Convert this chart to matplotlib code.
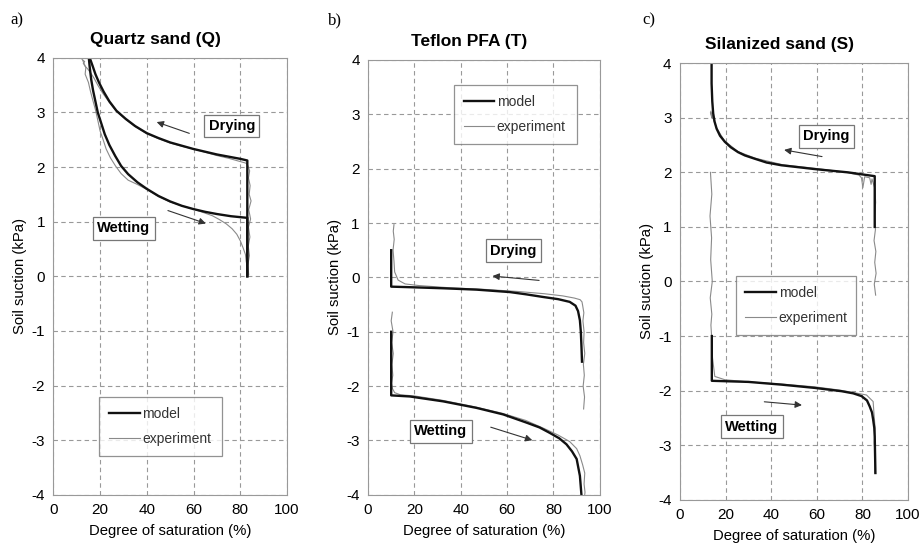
import numpy as np
import matplotlib.pyplot as plt

plt.rcParams['font.family'] = ['Liberation Sans', 'DejaVu Sans']
plt.rcParams['axes.unicode_minus'] = False

# ---- a) Quartz sand ----
q_dry_model_x = [83, 83, 80, 75, 70, 65, 60, 55, 50, 45, 40, 35, 31, 27, 24, 21.5,
                 19.5, 18, 16.8, 15.8, 15]
q_dry_model_y = [0.0, 2.12, 2.15, 2.19, 2.23, 2.28, 2.33, 2.39, 2.45, 2.53, 2.62, 2.75,
                 2.88, 3.03, 3.2, 3.38, 3.55, 3.7, 3.85, 3.97, 4.08]
q_wet_model_x = [15, 15.5, 16.2, 17, 18, 19, 20.5, 22, 24, 26.5, 29, 32, 36, 40, 45,
                 50, 55, 60, 65, 70, 76, 83, 83]
q_wet_model_y = [4.08, 3.85, 3.6, 3.4, 3.2, 3.0, 2.8, 2.6, 2.4, 2.2, 2.02, 1.87, 1.72,
                 1.6, 1.47, 1.37, 1.29, 1.23, 1.18, 1.14, 1.1, 1.07, 0.0]
q_dry_exp_x = [83.6, 83.2, 83.9, 83.4, 84.1, 83.5, 84.4, 83.6, 84.6, 83.8, 84.2, 83.5,
               84.0, 83.3, 82.5, 80, 75, 70, 65, 60, 55, 50, 45, 40, 35, 31, 27,
               24, 21, 19, 17.5, 16, 14.6, 13.5, 12.8, 13.4, 12.3]
q_dry_exp_y = [0.03, 0.2, 0.38, 0.55, 0.72, 0.9, 1.05, 1.22, 1.38, 1.5, 1.66, 1.8, 1.93,
               2.02, 2.07, 2.1, 2.16, 2.21, 2.27, 2.33, 2.38, 2.44, 2.52, 2.61, 2.74,
               2.87, 3.02, 3.18, 3.36, 3.5, 3.62, 3.72, 3.8, 3.85, 3.9, 3.93, 3.97]
q_wet_exp_x = [12.6, 13.9, 13.6, 15.0, 15.8, 16.9, 18.0, 19.0, 20.0, 21.3, 22.6, 24.4,
               26.6, 29.0, 32.0, 36, 40, 45, 50, 55, 60, 64, 68, 71, 74, 76.5, 78.5,
               80, 81.2, 82.2, 82.5, 83.0, 82.7, 83.3]
q_wet_exp_y = [3.95, 3.82, 3.7, 3.55, 3.4, 3.22, 3.05, 2.86, 2.66, 2.5, 2.33, 2.17,
               2.02, 1.88, 1.76, 1.68, 1.59, 1.46, 1.36, 1.29, 1.23, 1.17, 1.11, 1.04,
               0.96, 0.87, 0.77, 0.65, 0.52, 0.4, 0.28, 0.17, 0.08, 0.02]

# ---- b) Teflon PFA ----
t_dry_model_x = [92.3, 92.1, 91.8, 91.4, 90.6, 89.5, 87, 82, 75.5, 68, 61.2, 46.8,
                 32.4, 18, 10, 10]
t_dry_model_y = [-1.55, -1.3, -1.0, -0.79, -0.62, -0.52, -0.45, -0.4, -0.36, -0.31,
                 -0.27, -0.225, -0.2, -0.18, -0.17, 0.5]
t_wet_model_x = [10, 10, 18, 32.4, 46.8, 58.3, 68.3, 74, 78.4, 82.5, 85.6, 88, 90,
                 91.4, 92.1]
t_wet_model_y = [-1.0, -2.17, -2.19, -2.28, -2.4, -2.52, -2.67, -2.76, -2.86, -2.96,
                 -3.07, -3.2, -3.34, -3.65, -4.02]
t_dry_exp_x = [93.0, 93.4, 92.8, 93.3, 92.9, 93.5, 93.0, 93.2, 92.7, 93.1, 92.6, 92.3,
               91.5, 89, 84, 76, 65, 50, 35, 22, 16, 13, 11.5, 11.2, 10.8, 11.3,
               10.9, 11.2]
t_dry_exp_y = [-2.42, -2.2, -2.0, -1.8, -1.6, -1.4, -1.2, -1.0, -0.8, -0.65, -0.52,
               -0.45, -0.41, -0.38, -0.34, -0.3, -0.26, -0.22, -0.19, -0.15, -0.12,
               -0.05, 0.1, 0.3, 0.5, 0.7, 0.85, 0.97]
t_wet_exp_x = [10.5, 10.0, 10.8, 10.2, 10.9, 10.3, 10.7, 10.1, 10.6, 11.5, 14, 20, 32,
               46, 58, 68, 76, 82, 87, 90, 91.4, 92.6, 93.5, 93.2, 93.6, 93.3]
t_wet_exp_y = [-0.64, -0.8, -1.0, -1.2, -1.4, -1.6, -1.8, -1.95, -2.05, -2.12, -2.16,
               -2.18, -2.26, -2.38, -2.5, -2.63, -2.78, -2.9, -3.02, -3.15, -3.28,
               -3.45, -3.6, -3.8, -3.95, -4.07]

# ---- c) Silanized sand ----
s_dry_model_x = [85.4, 85.4, 73.7, 59.1, 44.5, 38, 32.8, 28.5, 25.5, 22.3, 19.7, 17.6,
                 16.1, 15.2, 14.6, 14.2, 13.9, 13.9]
s_dry_model_y = [1.0, 1.93, 2.0, 2.06, 2.13, 2.18, 2.25, 2.31, 2.37, 2.46, 2.56, 2.67,
                 2.8, 2.93, 3.08, 3.3, 3.63, 4.0]
s_wet_model_x = [14, 14, 30, 44.5, 59.1, 70.8, 76, 79.6, 82, 83.2, 84.2, 84.7, 85.2,
                 85.4, 85.7]
s_wet_model_y = [-1.0, -1.82, -1.84, -1.89, -1.95, -2.01, -2.05, -2.1, -2.18, -2.29,
                 -2.4, -2.53, -2.68, -2.84, -3.51]
s_dry_exp_x = [85.8, 85.2, 86.0, 85.4, 85.9, 85.1, 85.7, 85.3, 85.8, 85.5, 84.2, 83.8,
               83.2, 81, 80.2, 79.6, 78.5, 73, 60, 45, 33, 25.5, 19.5, 16, 14.5, 14.2,
               13.4, 14.0, 13.6]
s_dry_exp_y = [-0.25, -0.05, 0.15, 0.35, 0.55, 0.75, 0.95, 1.2, 1.45, 1.7, 1.88, 1.78,
               1.9, 1.92, 1.72, 1.9, 1.95, 2.0, 2.07, 2.14, 2.26, 2.38, 2.58, 2.82,
               3.0, 3.05, 3.1, 3.0, 3.12]
s_wet_exp_x = [13.4, 14.0, 13.2, 13.9, 13.5, 14.2, 13.3, 14.0, 13.6, 13.9, 14.3, 15.3,
               19.7, 30, 44.5, 59, 70, 78, 81.8, 84.7, 85.1, 85.6, 85.2, 85.7, 85.4]
s_wet_exp_y = [2.0, 1.6, 1.2, 0.8, 0.4, 0.0, -0.3, -0.6, -0.8, -1.0, -1.4, -1.74, -1.8,
               -1.84, -1.88, -1.93, -1.99, -2.05, -2.08, -2.2, -2.44, -2.7, -2.96,
               -3.25, -3.51]

panels = [
    dict(rect=[0.058, 0.092, 0.254, 0.802], title='Quartz sand (Q)', tag='a)', tagx=0.011,
         dm=(q_dry_model_x, q_dry_model_y), wm=(q_wet_model_x, q_wet_model_y),
         de=(q_dry_exp_x, q_dry_exp_y), we=(q_wet_exp_x, q_wet_exp_y),
         dry_lab=(76.4, 2.75), wet_lab=(30.1, 0.88),
         dry_arr=((59.3, 2.6), (43.1, 2.84)), wet_arr=((47.9, 1.22), (66.4, 0.95)),
         leg=(0.197, 0.089, 0.524, 0.141)),
    dict(rect=[0.400, 0.092, 0.252, 0.798], title='Teflon PFA (T)', tag='b)', tagx=0.356,
         dm=(t_dry_model_x, t_dry_model_y), wm=(t_wet_model_x, t_wet_model_y),
         de=(t_dry_exp_x, t_dry_exp_y), we=(t_wet_exp_x, t_wet_exp_y),
         dry_lab=(62.6, 0.49), wet_lab=(31.4, -2.83),
         dry_arr=((75, -0.06), (52.5, 0.03)), wet_arr=((51.8, -2.74), (72, -3.01)),
         leg=(0.37, 0.8075, 0.53, 0.1425)),
    dict(rect=[0.739, 0.083, 0.248, 0.801], title='Silanized sand (S)', tag='c)', tagx=0.698,
         dm=(s_dry_model_x, s_dry_model_y), wm=(s_wet_model_x, s_wet_model_y),
         de=(s_dry_exp_x, s_dry_exp_y), we=(s_wet_exp_x, s_wet_exp_y),
         dry_lab=(64.2, 2.66), wet_lab=(31.5, -2.66),
         dry_arr=((63.5, 2.28), (44.5, 2.42)), wet_arr=((35.8, -2.2), (54.7, -2.27)),
         leg=(0.244, 0.3775, 0.53, 0.145)),
]

fig = plt.figure(figsize=(9.2, 5.45), dpi=100)
box = dict(boxstyle='square,pad=0.3', fc='white', ec='#777777', lw=0.9)

for p in panels:
    ax = fig.add_axes(p['rect'])
    ax.plot(*p['de'], color='#8a8a8a', lw=0.8)
    ax.plot(*p['we'], color='#8a8a8a', lw=0.8)
    ax.plot(*p['dm'], color='#111111', lw=1.7, label='model')
    ax.plot(*p['wm'], color='#111111', lw=1.7)
    ax.plot([], [], color='#8a8a8a', lw=0.8, label='experiment')
    ax.set_xlim(0, 100)
    ax.set_ylim(-4, 4)
    ax.set_xticks(range(0, 101, 20))
    ax.set_yticks(range(-4, 5))
    ax.tick_params(length=0, labelsize=11, pad=6)
    ax.grid(True, color='#999999', ls=(0, (4, 3)), lw=0.8)
    for s in ax.spines.values():
        s.set_color('#999999')
    ax.set_xlabel('Degree of saturation (%)', fontsize=10.7, labelpad=5)
    ax.set_ylabel('Soil suction (kPa)', fontsize=10.7, labelpad=3)
    ax.set_title(p['title'], fontsize=12.5, fontweight='bold', pad=10, x=0.435)
    fig.text(p['tagx'], 0.955, p['tag'], fontsize=12, family='Liberation Serif')
    ax.text(*p['dry_lab'], 'Drying', ha='center', va='center', fontsize=10.5,
            fontweight='bold', bbox=box)
    ax.text(*p['wet_lab'], 'Wetting', ha='center', va='center', fontsize=10.5,
            fontweight='bold', bbox=box)
    for tail, head in (p['dry_arr'], p['wet_arr']):
        ax.annotate('', xy=head, xytext=tail,
                    arrowprops=dict(arrowstyle='-|>', color='#333333', lw=0.8,
                                    mutation_scale=10))
    leg = ax.legend(loc='lower left', bbox_to_anchor=p['leg'], mode='expand',
                    fontsize=10, frameon=True, fancybox=False, handlelength=2.2,
                    borderpad=0.7, labelspacing=0.8, handletextpad=0.2,
                    borderaxespad=0)
    leg.get_frame().set_edgecolor('#777777')
    leg.get_frame().set_linewidth(0.9)
    for t in leg.get_texts():
        t.set_color('#333333')

fig.savefig('out.png', dpi=100)
